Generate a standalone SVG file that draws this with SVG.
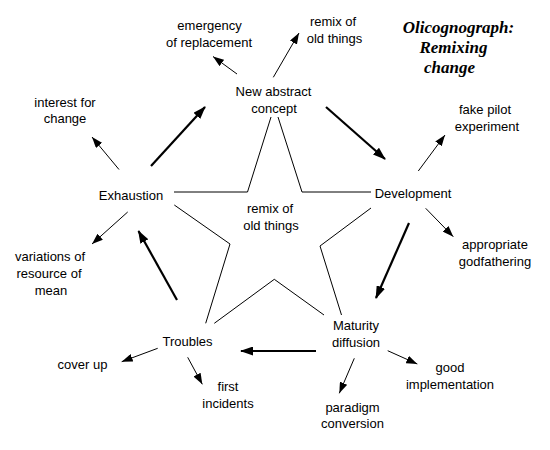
<svg xmlns="http://www.w3.org/2000/svg" width="550" height="450" viewBox="0 0 550 450">
<style>
  text { font-family: "Liberation Sans", Arial, sans-serif; font-size: 13px; fill: #000; text-anchor: middle; }
  .title { font-family: "Liberation Serif", "Times New Roman", serif; font-size: 17px; font-weight: bold; font-style: italic; }
  .thin { stroke: #000; stroke-width: 1; fill: none; marker-end: url(#ah); }
  .thick { stroke: #000; stroke-width: 2.2; fill: none; marker-end: url(#ahb); }
  .star { stroke: #000; stroke-width: 1; fill: none; }
</style>
<defs>
  <marker id="ah" markerUnits="userSpaceOnUse" markerWidth="12" markerHeight="8" refX="11" refY="4" orient="auto">
    <path d="M0,0 L11,4 L0,8 z" fill="#000"/>
  </marker>
  <marker id="ahb" markerUnits="userSpaceOnUse" markerWidth="13" markerHeight="9" refX="12" refY="4.5" orient="auto">
    <path d="M0,0 L13,4.5 L0,9 z" fill="#000"/>
  </marker>
</defs>
<rect width="550" height="450" fill="#fff"/>

<g id="star">
  <polyline class="star" points="174,192 247.5,192 271,117"/>
  <polyline class="star" points="278,117 302,192 371,192"/>
  <polyline class="star" points="371,208 320,246 341.5,315"/>
  <polyline class="star" points="324,315 274.3,279.3 214.3,323.3"/>
  <polyline class="star" points="205.7,323.3 230,244 174.3,205"/>
</g>

<g id="connectors">
  <line class="thick" x1="151" y1="166" x2="205" y2="107"/>
  <line class="thick" x1="326" y1="107" x2="385" y2="159"/>
  <line class="thick" x1="409" y1="223" x2="376" y2="298"/>
  <line class="thick" x1="316" y1="351" x2="241" y2="351"/>
  <line class="thick" x1="177" y1="300" x2="138.5" y2="231"/>

  <line class="thin" x1="237" y1="74" x2="213" y2="56.5"/>
  <line class="thin" x1="273.3" y1="77.3" x2="299" y2="33"/>
  <line class="thin" x1="119" y1="169.5" x2="92" y2="137"/>
  <line class="thin" x1="127.7" y1="212" x2="92" y2="244"/>
  <line class="thin" x1="418.3" y1="171" x2="445" y2="135"/>
  <line class="thin" x1="425.7" y1="208.3" x2="453.3" y2="236.7"/>
  <line class="thin" x1="157.7" y1="348.3" x2="121.7" y2="361.7"/>
  <line class="thin" x1="187.7" y1="357.3" x2="202.3" y2="384.3"/>
  <line class="thin" x1="387.7" y1="350.7" x2="417.3" y2="364"/>
  <line class="thin" x1="354.3" y1="358.3" x2="339.3" y2="393.3"/>
</g>

<g id="title">
  <text class="title" x="458.5" y="33">Olicognograph:</text>
  <text class="title" x="453.5" y="53">Remixing</text>
  <text class="title" x="449.5" y="73">change</text>
</g>

<g id="center-label">
  <text x="270" y="213">remix of</text>
  <text x="271" y="230">old things</text>
</g>

<g id="new-abstract-concept">
  <text x="273.5" y="96">New abstract</text>
  <text x="274" y="113">concept</text>
</g>
<g id="emergency-of-replacement">
  <text x="209.5" y="30">emergency</text>
  <text x="209" y="47">of replacement</text>
</g>
<g id="remix-of-old-things">
  <text x="333" y="26">remix of</text>
  <text x="334.5" y="43">old things</text>
</g>

<g id="development">
  <text x="413" y="198">Development</text>
</g>
<g id="fake-pilot-experiment">
  <text x="485" y="114">fake pilot</text>
  <text x="487" y="131">experiment</text>
</g>
<g id="appropriate-godfathering">
  <text x="495" y="249">appropriate</text>
  <text x="495" y="266">godfathering</text>
</g>

<g id="maturity-diffusion">
  <text x="356" y="330">Maturity</text>
  <text x="356" y="347">diffusion</text>
</g>
<g id="good-implementation">
  <text x="450" y="372">good</text>
  <text x="450" y="389">implementation</text>
</g>
<g id="paradigm-conversion">
  <text x="352.5" y="411.5">paradigm</text>
  <text x="352.5" y="428">conversion</text>
</g>

<g id="troubles">
  <text x="187.5" y="346">Troubles</text>
</g>
<g id="cover-up">
  <text x="82.5" y="369">cover up</text>
</g>
<g id="first-incidents">
  <text x="228" y="391">first</text>
  <text x="228" y="408">incidents</text>
</g>

<g id="exhaustion">
  <text x="131" y="200">Exhaustion</text>
</g>
<g id="interest-for-change">
  <text x="65" y="106.5">interest for</text>
  <text x="65" y="123">change</text>
</g>
<g id="variations-of-resource-of-mean">
  <text x="50" y="261">variations of</text>
  <text x="49" y="278">resource of</text>
  <text x="51" y="295">mean</text>
</g>
</svg>
